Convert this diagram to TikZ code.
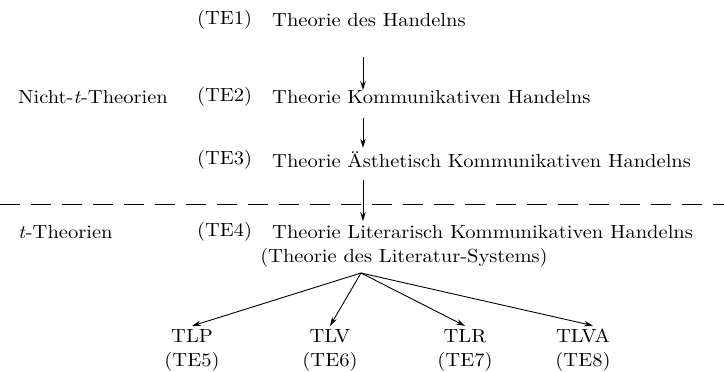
\documentclass[tikz,border=0pt]{standalone}
\usepackage{fontspec}
\setmainfont{lmroman10-regular.otf}[FakeStretch=1.08, ItalicFont=lmroman10-italic.otf]
\usepackage{tikz}
\usetikzlibrary{arrows.meta, positioning, calc}
\tikzstyle{lab} = [anchor=west, inner sep=0pt, font=\fontsize{19}{22}\selectfont]
\tikzstyle{txt} = [anchor=west, inner sep=0pt, font=\fontsize{19}{22}\selectfont]
\tikzstyle{leaf} = [inner sep=0pt, align=center, font=\fontsize{19}{24}\selectfont]
\tikzstyle{arrow} = [line width=0.9pt, -{Stealth[length=9pt, width=5.5pt]}]
\tikzstyle{sep} = [line width=1pt, dash pattern=on 20pt off 11pt]

\begin{document}
\begin{tikzpicture}[x=1pt, y=1pt]
        \useasboundingbox (0,0) rectangle (724,-372);
        \coordinate (axis) at (363,0);

        \node[lab] (te1) at (197,-20) {(TE1)};
        \node[txt] (th1) at (272,-20) {Theorie des Handelns};
        \node[lab] (nicht) at (18,-97) {Nicht-\textit{t}-Theorien};
        \node[lab] (te2) at (197,-97) {(TE2)};
        \node[txt] (th2) at (272,-97) {Theorie Kommunikativen Handelns};
        \node[lab] (te3) at (197,-160) {(TE3)};
        \node[txt] (th3) at (272,-160) {Theorie Ästhetisch Kommunikativen Handelns};
        \node[lab] (tth) at (18,-232) {\textit{t}-Theorien};
        \node[lab] (te4) at (197,-232) {(TE4)};
        \node[txt] (th4) at (272,-232) {Theorie Literarisch Kommunikativen Handelns};
        \node[leaf] (sys) at (404,-258) {(Theorie des Literatur-Systems)};
        \coordinate (fan) at (361,-273);

        \node[leaf] (tlp) at (192,-350) {TLP\\(TE5)};
        \node[leaf] (tlv) at (330,-350) {TLV\\(TE6)};
        \node[leaf] (tlr) at (465,-350) {TLR\\(TE7)};
        \node[leaf] (tlva) at (583,-350) {TLVA\\(TE8)};

        \draw[sep] (0,-204) -- (724,-204);

        \draw[arrow] (th1.south -| axis) ++(0,-30) -- (th2.north -| axis);
        \draw[arrow] (th2.south -| axis) ++(0,-14) -- ($(th3.north -| axis)+(0,4)$);
        \draw[arrow] (th3.south -| axis) ++(0,-12) -- ($(th4.north -| axis)+(0,4)$);

        \draw[arrow] (fan) -- ([yshift=3pt]tlp.north);
        \draw[arrow] (fan) -- ([yshift=3pt]tlv.north);
        \draw[arrow] (fan) -- ([yshift=3pt]tlr.north);
        \draw[arrow] (fan) -- ([xshift=10pt,yshift=3pt]tlva.north);
    \end{tikzpicture}
\end{document}
